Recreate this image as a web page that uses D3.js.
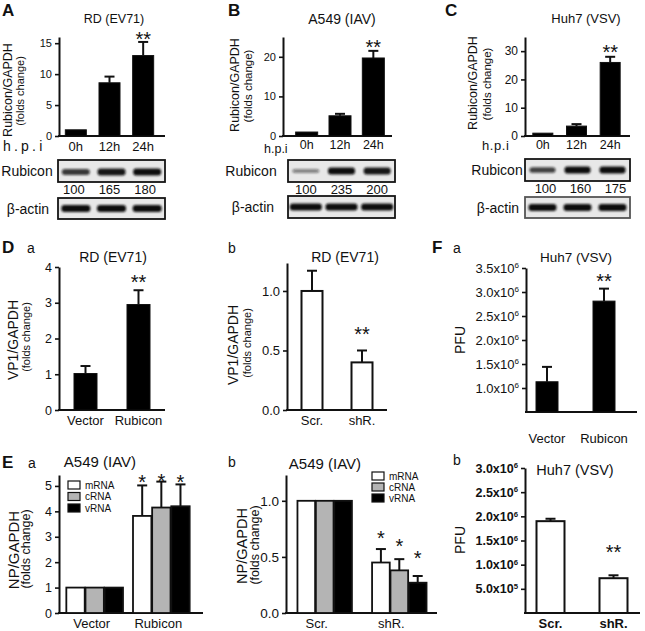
<!DOCTYPE html>
<html><head><meta charset="utf-8">
<script src="https://cdn.jsdelivr.net/npm/d3@7"></script>
<style>
body{margin:0;background:#fff}
text{font-family:"Liberation Sans",Arial,Helvetica,sans-serif;fill:#111}
</style>
</head><body>
<svg id="fig" width="645" height="631"></svg>
<script>
// ---------------- DATA ----------------
const hpi = ["0h", "12h", "24h"];
// A: RD (EV71)
const rdRubicon = [1.0, 8.6, 13.0];
const rdRubiconErr = [0.0, 1.0, 2.2];
const rdStars = ["", "", "**"];
const rdBlotQuant = [100, 165, 180];
const rdRubiconBand = [0.75, 0.95, 1.0];
const rdActinBand = [1.0, 1.0, 1.0];
// B: A549 (IAV)
const a549Rubicon = [1.0, 5.1, 19.7];
const a549RubiconErr = [0.0, 0.5, 1.8];
const a549Stars = ["", "", "**"];
const a549BlotQuant = [100, 235, 200];
const a549RubiconBand = [0.3, 1.0, 0.95];
const a549ActinBand = [1.0, 1.0, 1.0];
// C: Huh7 (VSV)
const huh7Rubicon = [1.0, 3.5, 26.0];
const huh7RubiconErr = [0.0, 0.7, 2.0];
const huh7Stars = ["", "", "**"];
const huh7BlotQuant = [100, 160, 175];
const huh7RubiconBand = [0.7, 1.0, 1.0];
const huh7ActinBand = [1.0, 1.0, 1.0];
// D / F
const overCats = ["Vector", "Rubicon"];
const knockCats = ["Scr.", "shR."];
const vp1Over = [1.02, 2.95];
const vp1OverErr = [0.21, 0.40];
const vp1OverStars = ["", "**"];
const vp1Knock = [1.0, 0.40];
const vp1KnockErr = [0.17, 0.10];
const vp1KnockStars = ["", "**"];
const pfuOver = [1.13e6, 2.81e6];
const pfuOverErr = [0.31e6, 0.26e6];
const pfuOverStars = ["", "**"];
const pfuKnock = [1.90e6, 0.72e6];
const pfuKnockErr = [0.05e6, 0.06e6];
const pfuKnockStars = ["", "**"];
// E
const rnaTypes = ["mRNA", "cRNA", "vRNA"];
const npOverVector = [1.0, 1.0, 1.0];
const npOverVectorErr = [0, 0, 0];
const npOverRubicon = [3.82, 4.15, 4.20];
const npOverRubiconErr = [1.20, 1.02, 0.86];
const npOverStars = [["", "", ""], ["*", "*", "*"]];
const npKnockScr = [1.0, 1.0, 1.0];
const npKnockScrErr = [0, 0, 0];
const npKnockShR = [0.45, 0.38, 0.27];
const npKnockShRErr = [0.12, 0.10, 0.06];
const npKnockStars = [["", "", ""], ["*", "*", "*"]];
// tick values
const ticksA = [0, 5, 10, 15];
const ticksB = [0, 10, 20];
const ticksC = [0, 10, 20, 30];
const ticksDa = [0, 1, 2, 3, 4];
const ticksDb = [0, 0.5, 1.0];
const ticksFa = [1.0e6, 1.5e6, 2.0e6, 2.5e6, 3.0e6, 3.5e6];
const ticksFb = [0.5e6, 1.0e6, 1.5e6, 2.0e6, 2.5e6, 3.0e6];
const ticksEa = [0, 1, 2, 3, 4, 5];
const ticksEb = [0, 0.5, 1.0];

// ---------------- HELPERS ----------------
const svg = d3.select("#fig");
const INK = "#111";
const fmtInt = d3.format("d");
const fmt1 = d3.format(".1f");
const defs = svg.append("defs");
defs.append("filter").attr("id", "blur").attr("x", "-20%").attr("y", "-80%").attr("width", "140%").attr("height", "260%")
  .append("feGaussianBlur").attr("stdDeviation", 1.1);

function txt(g, x, y, s, o = {}) {
  const t = g.append("text").attr("x", x).attr("y", y).text(s)
    .attr("font-size", o.fs || 12)
    .attr("text-anchor", o.anchor || "start")
    .attr("font-weight", o.bold ? "bold" : "normal");
  if (o.ls) t.attr("letter-spacing", o.ls);
  return t;
}
function vlabel(g, x, yc, s, fs) {
  g.append("text").attr("transform", `translate(${x},${yc}) rotate(-90)`)
    .attr("text-anchor", "middle").attr("dominant-baseline", "central")
    .attr("font-size", fs).text(s);
}
function sciLabels(ax, fs, bold) {
  ax.selectAll(".tick text").each(function (d) {
    const sel = d3.select(this);
    const e = Math.floor(Math.log10(d) + 1e-9);
    const m = d / Math.pow(10, e);
    sel.text(null);
    sel.append("tspan").text(m.toFixed(1) + "x10");
    sel.append("tspan").attr("dy", "-0.55em").attr("font-size", fs * 0.62).text(e);
  }).attr("font-weight", bold ? "bold" : "normal");
}
function drawYAxis(g, y, o) {
  const axis = d3.axisLeft(y).tickValues(o.ticks).tickSize(4).tickSizeOuter(0).tickPadding(3)
    .tickFormat(o.fmt || fmtInt);
  const ax = g.append("g").attr("transform", `translate(${o.x0},0)`).call(axis)
    .attr("font-family", null).attr("font-size", o.tickFs || 12);
  ax.select(".domain").attr("stroke", INK).attr("stroke-width", 2);
  ax.selectAll(".tick line").attr("stroke", INK).attr("stroke-width", 1.6);
  ax.selectAll(".tick text").attr("fill", INK).attr("font-size", o.tickFs || 12)
    .attr("font-weight", o.tickBold ? "bold" : "normal");
  if (o.sci) sciLabels(ax, o.tickFs || 12, o.tickBold);
  g.append("line").attr("x1", o.x0 - 1).attr("x2", o.x1).attr("y1", o.yBot).attr("y2", o.yBot)
    .attr("stroke", INK).attr("stroke-width", 2);
}
function errBars(g, data, cap) {
  const e = g.selectAll(null).data(data.filter(d => d.e > 0)).join("g");
  e.append("line").attr("x1", d => d.cx).attr("x2", d => d.cx).attr("y1", d => d.y0).attr("y2", d => d.y1)
    .attr("stroke", INK).attr("stroke-width", 2);
  e.append("line").attr("x1", d => d.cx - cap).attr("x2", d => d.cx + cap).attr("y1", d => d.y1).attr("y2", d => d.y1)
    .attr("stroke", INK).attr("stroke-width", 2);
}
function stars(g, data, gap) {
  g.selectAll(null).data(data.filter(d => d.s)).join("text")
    .attr("x", d => d.cx).attr("y", d => d.y1 - gap + 11.5)
    .attr("text-anchor", "middle").attr("font-size", 20).text(d => d.s);
}

function barPanel(o) {
  const g = svg.append("g");
  const y = d3.scaleLinear().domain(o.domain).range([o.yBot, o.yTop]);
  const x = d3.scalePoint().domain(o.cats).range(o.xr).padding(0.5);
  drawYAxis(g, y, o);
  const data = o.cats.map((c, i) => ({
    c, v: o.values[i], e: o.errs[i], s: o.stars[i], cx: x(c),
    y0: y(o.values[i]), y1: y(o.values[i] + o.errs[i])
  }));
  errBars(g, data, o.cap || 5);
  g.selectAll(null).data(data).join("rect")
    .attr("x", d => d.cx - o.barW / 2).attr("width", o.barW)
    .attr("y", d => d.y0).attr("height", d => o.yBot - d.y0)
    .attr("fill", o.fill).attr("stroke", INK).attr("stroke-width", o.fill === "#fff" ? 2 : 1);
  stars(g, data, o.starGap);
  g.selectAll(null).data(o.cats).join("text")
    .attr("x", d => x(d) + (o.catDx || 0)).attr("y", o.catY).attr("text-anchor", "middle")
    .attr("font-size", o.catFs || 13).attr("font-weight", o.catBold ? "bold" : "normal").text(d => d);
  return { g, x, y };
}

function groupPanel(o) {
  const g = svg.append("g");
  const y = d3.scaleLinear().domain(o.domain).range([o.yBot, o.yTop]);
  const x0 = d3.scaleBand().domain(o.groups).range(o.xr).paddingInner(o.padIn).paddingOuter(o.padOut);
  const x1 = d3.scaleBand().domain(rnaTypes).range([0, x0.bandwidth()]).paddingInner(0.04);
  drawYAxis(g, y, o);
  const fills = d3.scaleOrdinal().domain(rnaTypes).range(["#fff", "#b4b4b4", "#000"]);
  const data = [];
  o.groups.forEach((gname, gi) => rnaTypes.forEach((r, ri) => {
    const v = o.values[gi][ri], e = o.errs[gi][ri];
    data.push({ r, v, e, s: o.stars[gi][ri], x: x0(gname) + x1(r), w: x1.bandwidth(),
      cx: x0(gname) + x1(r) + x1.bandwidth() / 2, y0: y(v), y1: y(v + e) });
  }));
  errBars(g, data, 5);
  g.selectAll(null).data(data).join("rect")
    .attr("x", d => d.x).attr("width", d => d.w)
    .attr("y", d => d.y0).attr("height", d => o.yBot - d.y0)
    .attr("fill", d => fills(d.r)).attr("stroke", INK).attr("stroke-width", 1.8);
  g.selectAll(null).data(data.filter(d => d.s)).join("text")
    .attr("x", d => d.cx).attr("y", (d, i) => d.y1 - o.starGaps[i] + 11.5)
    .attr("text-anchor", "middle").attr("font-size", 20).text(d => d.s);
  g.selectAll(null).data(o.groups).join("text")
    .attr("x", d => x0(d) + x0.bandwidth() / 2 + (o.catDx || 0)).attr("y", o.catY)
    .attr("text-anchor", "middle").attr("font-size", 13).text(d => d);
  const lg = g.append("g").attr("transform", `translate(${o.legX},${o.legY})`);
  const rows = lg.selectAll(null).data(rnaTypes).join("g")
    .attr("transform", (d, i) => `translate(0,${i * o.legStep})`);
  rows.append("rect").attr("x", 0).attr("y", -4).attr("width", 12).attr("height", 8)
    .attr("fill", d => fills(d)).attr("stroke", INK).attr("stroke-width", 1.2);
  rows.append("text").attr("x", 17).attr("y", 3.5).attr("font-size", 10).text(d => d);
  return g;
}

function blot(o) {
  const g = svg.append("g");
  g.append("rect").attr("x", o.x0).attr("y", o.y0).attr("width", o.x1 - o.x0).attr("height", o.y1 - o.y0)
    .attr("fill", "#e8e8e8").attr("stroke", o.stroke || "#151515").attr("stroke-width", 1.8);
  const lane = d3.scalePoint().domain(hpi).range([o.x0, o.x1]).padding(0.5);
  const yc = (o.y0 + o.y1) / 2 + (o.dy || 0);
  g.selectAll(null).data(o.bands.map((b, i) => ({ b, c: hpi[i] }))).join("rect")
    .attr("x", d => lane(d.c) - o.bw / 2).attr("width", o.bw)
    .attr("y", d => yc - (2.5 + 4.5 * d.b) / 2).attr("height", d => 2.5 + 4.5 * d.b)
    .attr("rx", 3).attr("fill", "#111").attr("fill-opacity", d => 0.25 + 0.75 * d.b)
    .attr("filter", "url(#blur)");
  g.append("text").attr("x", o.labelX).attr("y", (o.y0 + o.y1) / 2).attr("dominant-baseline", "central")
    .attr("text-anchor", "middle").attr("font-size", o.labelFs || 14).text(o.label);
  return lane;
}

// ---------------- PANEL LETTERS / TITLES ----------------
const L = svg.append("g");
txt(L, 2, 16, "A", { fs: 17, bold: true });
txt(L, 228, 16, "B", { fs: 17, bold: true });
txt(L, 445, 16, "C", { fs: 17, bold: true });
txt(L, 2, 253, "D", { fs: 17, bold: true });
txt(L, 27, 253, "a", { fs: 14 });
txt(L, 228, 253, "b", { fs: 14 });
txt(L, 432, 253, "F", { fs: 17, bold: true });
txt(L, 453, 253, "a", { fs: 14 });
txt(L, 2, 468, "E", { fs: 17, bold: true });
txt(L, 28, 468, "a", { fs: 14 });
txt(L, 228, 467, "b", { fs: 14 });
txt(L, 453, 465, "b", { fs: 14 });

txt(L, 114, 23, "RD (EV71)", { fs: 12.5, anchor: "middle" });
txt(L, 342, 24, "A549 (IAV)", { fs: 14, anchor: "middle" });
txt(L, 586, 23, "Huh7 (VSV)", { fs: 13, anchor: "middle" });
txt(L, 113, 262, "RD (EV71)", { fs: 14, anchor: "middle" });
txt(L, 345, 262, "RD (EV71)", { fs: 14, anchor: "middle" });
txt(L, 576, 262, "Huh7 (VSV)", { fs: 13.5, anchor: "middle" });
txt(L, 100, 467, "A549 (IAV)", { fs: 15, anchor: "middle" });
txt(L, 325, 469, "A549 (IAV)", { fs: 15, anchor: "middle" });
txt(L, 575, 475, "Huh7 (VSV)", { fs: 14.5, anchor: "middle" });

// ---------------- ROW 1 ----------------
barPanel({ x0: 59, x1: 165, yTop: 37, yBot: 136, domain: [0, 16], ticks: ticksA, tickFs: 11,
  cats: hpi, xr: [59, 160], values: rdRubicon, errs: rdRubiconErr, stars: rdStars,
  barW: 21, fill: "#000", starGap: 7, catY: 151, catFs: 13 });
txt(L, 3, 151, "h.p.i", { fs: 14, ls: 3.2 });
vlabel(L, 8, 90, "Rubicon/GAPDH", 12.5);
vlabel(L, 20, 91, "(folds change)", 11);
const laneA = blot({ x0: 58, x1: 165, y0: 160, y1: 182, bands: rdRubiconBand, bw: 28, label: "Rubicon", labelX: 27, dy: 1 });
blot({ x0: 58, x1: 165, y0: 198, y1: 219, bands: rdActinBand, bw: 29, label: "β-actin", labelX: 28 });
L.selectAll(null).data(rdBlotQuant).join("text").attr("x", (d, i) => laneA(hpi[i]) - 2).attr("y", 194)
  .attr("text-anchor", "middle").attr("font-size", 13).text(d => d);

barPanel({ x0: 283, x1: 392, yTop: 37, yBot: 136, domain: [0, 25], ticks: ticksB, tickFs: 11,
  cats: hpi, xr: [290, 390], values: a549Rubicon, errs: a549RubiconErr, stars: a549Stars,
  barW: 22, fill: "#000", starGap: 8, catY: 149, catFs: 12.5 });
txt(L, 264, 153, "h.p.i", { fs: 12.5 });
vlabel(L, 235, 85, "Rubicon/GAPDH", 12.5);
vlabel(L, 248, 86, "(folds change)", 11.5);
const laneB = blot({ x0: 288, x1: 395, y0: 160, y1: 182, bands: a549RubiconBand, bw: 27, label: "Rubicon", labelX: 251 });
blot({ x0: 288, x1: 395, y0: 196, y1: 218, bands: a549ActinBand, bw: 32, label: "β-actin", labelX: 253 });
L.selectAll(null).data(a549BlotQuant).join("text").attr("x", (d, i) => laneB(hpi[i])).attr("y", 194)
  .attr("text-anchor", "middle").attr("font-size", 13).text(d => d);

barPanel({ x0: 525, x1: 630, yTop: 37, yBot: 136, domain: [0, 35], ticks: ticksC, tickFs: 12,
  cats: hpi, xr: [526, 627], values: huh7Rubicon, errs: huh7RubiconErr, stars: huh7Stars,
  barW: 20, fill: "#000", starGap: 9, catY: 149, catFs: 12.5 });
txt(L, 482, 149.5, "h.p.i", { fs: 13, ls: 0.6 });
vlabel(L, 473, 83, "Rubicon/GAPDH", 12.5);
vlabel(L, 487, 84, "(folds change)", 11.5);
const laneC = blot({ x0: 525, x1: 630, y0: 159, y1: 181, bands: huh7RubiconBand, bw: 26, label: "Rubicon", labelX: 497 });
blot({ x0: 525, x1: 630, y0: 197, y1: 218, bands: huh7ActinBand, bw: 28, label: "β-actin", labelX: 498, stroke: "#555" });
L.selectAll(null).data(huh7BlotQuant).join("text").attr("x", (d, i) => laneC(hpi[i]) + 3).attr("y", 193)
  .attr("text-anchor", "middle").attr("font-size", 13).text(d => d);

// ---------------- ROW 2 ----------------
barPanel({ x0: 59, x1: 165, yTop: 267, yBot: 410, domain: [0, 4], ticks: ticksDa, tickFs: 12.5,
  cats: overCats, xr: [59, 165], values: vp1Over, errs: vp1OverErr, stars: vp1OverStars,
  barW: 23, fill: "#000", starGap: 13, catY: 425, catFs: 13 });
vlabel(L, 13, 340, "VP1/GAPDH", 14);
vlabel(L, 26, 337, "(folds change)", 11);

barPanel({ x0: 287, x1: 387, yTop: 263, yBot: 410, domain: [0, 1.235], ticks: ticksDb, tickFs: 13,
  fmt: fmt1, cats: knockCats, xr: [287, 387], values: vp1Knock, errs: vp1KnockErr,
  stars: vp1KnockStars, barW: 21, fill: "#fff", starGap: 21, catY: 425, catFs: 13 });
vlabel(L, 233, 345, "VP1/GAPDH", 14);
vlabel(L, 247, 343, "(folds change)", 11);

barPanel({ x0: 526, x1: 637, yTop: 268, yBot: 412, domain: [0.5e6, 3.5e6], ticks: ticksFa, tickFs: 13,
  sci: true, cats: overCats, xr: [518.5, 632.5], values: pfuOver, errs: pfuOverErr, stars: pfuOverStars,
  barW: 22, fill: "#000", starGap: 12, catY: 443, catFs: 13 });
vlabel(L, 460, 340, "PFU", 14);

// ---------------- ROW 3 ----------------
groupPanel({ x0: 59, x1: 203, yTop: 475, yBot: 613, domain: [0, 5.43], ticks: ticksEa, tickFs: 12.5,
  groups: overCats, xr: [63, 193], padIn: 0.15, padOut: 0.05,
  values: [npOverVector, npOverRubicon], errs: [npOverVectorErr, npOverRubiconErr], stars: npOverStars,
  starGaps: [8, 5, 7], catY: 628, catDx: -3, legX: 68, legY: 485, legStep: 11.5 });
vlabel(L, 13, 550, "NP/GAPDH", 15);
vlabel(L, 26, 549, "(folds change)", 12.5);

groupPanel({ x0: 286, x1: 437, yTop: 475, yBot: 613, domain: [0, 1.23], ticks: ticksEb, tickFs: 13.5,
  fmt: fmt1, groups: knockCats, xr: [290, 434], padIn: 0.27, padOut: 0.1,
  values: [npKnockScr, npKnockShR], errs: [npKnockScrErr, npKnockShRErr], stars: npKnockStars,
  starGaps: [16, 18, 22], catY: 628, catDx: -8, legX: 372, legY: 476, legStep: 11 });
vlabel(L, 242, 546, "NP/GAPDH", 14.5);
vlabel(L, 255, 545, "(folds change)", 12.5);

barPanel({ x0: 525, x1: 640, yTop: 468, yBot: 613, domain: [0, 3.0e6], ticks: ticksFb, tickFs: 12.5,
  tickBold: true, sci: true, cats: knockCats, xr: [519, 645], values: pfuKnock, errs: pfuKnockErr,
  stars: pfuKnockStars, barW: 28, fill: "#fff", starGap: 28, catY: 628, catFs: 13, catBold: true });
vlabel(L, 460, 540, "PFU", 14);
</script>
</body></html>
